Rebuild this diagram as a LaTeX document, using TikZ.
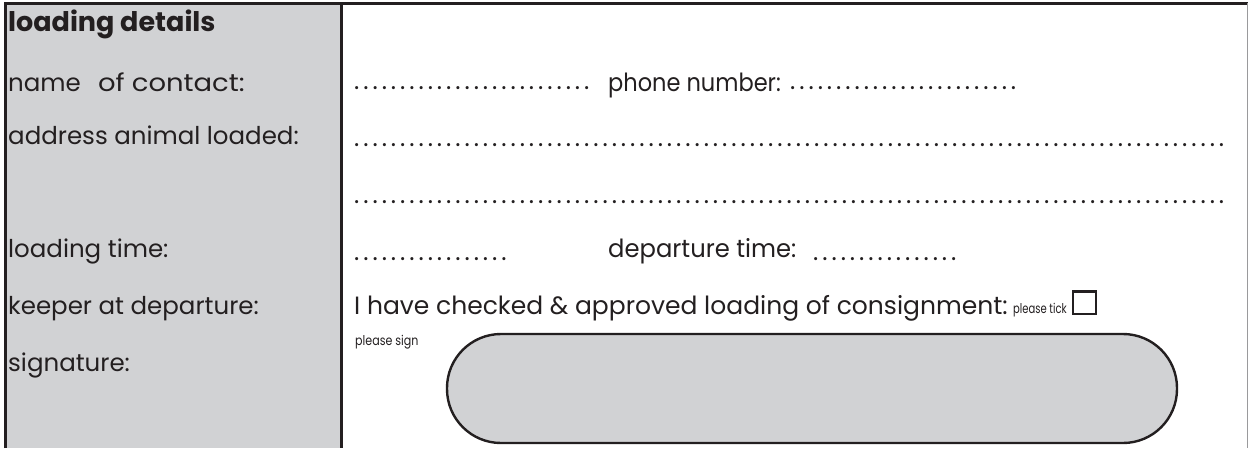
\documentclass[tikz,border=0pt]{standalone}
\usepackage{graphicx}
\usepackage{fontspec}
\setmainfont{Poppins}
\definecolor{ink}{HTML}{231F20}
\definecolor{panel}{HTML}{D1D2D4}
\definecolor{rim}{HTML}{9A9A9C}
\newcommand{\dotrun}[1]{\hbox to #1{\leaders\hbox to 9.2pt{\hss.\hss}\hfill}}
\newcommand{\narrow}[2]{\scalebox{#1}[1]{#2}}
\tikzset{
  lbl/.style={anchor=base west, inner sep=0pt, text=ink, font=\fontsize{24.5}{28}\selectfont},
  fld/.style={anchor=base west, inner sep=0pt, text=ink, font=\fontsize{25}{29}\selectfont},
  tiny/.style={anchor=base west, inner sep=0pt, text=ink, font=\fontsize{13.5}{15}\selectfont},
  frame/.style={draw=ink, line width=3pt},
  signbox/.style={draw=ink, line width=2.4pt, fill=panel, rounded corners=54pt},
  tickbox/.style={draw=ink, line width=2.8pt}
}
\begin{document}
\begin{tikzpicture}[x=1pt,y=-1pt]
\useasboundingbox (0,0) rectangle (1250,448);
% panel
\fill[panel] (5,3) rectangle (341.5,448);
\draw[frame] (5,448) -- (5,3) -- (1248,3);
\draw[frame] (341.5,3) -- (341.5,448);
\draw[rim, line width=1.5pt] (1247.5,3) -- (1247.5,448);
% left labels
\node[lbl, font=\fontsize{27}{31}\selectfont\bfseries] (t0) at (8,31) {loading details};
\node[lbl] (t1) at (8,91) {name\hspace{0.7em}\narrow{1.12}{of contact:}};
\node[lbl] (t2) at (8,144) {address animal loaded:};
\node[lbl] (t3) at (8,257) {loading time:};
\node[lbl] (t4) at (8,314) {keeper at departure:};
\node[lbl] (t5) at (8,371) {signature:};
% right fields
\node[fld] (d1) at (352,89) {\dotrun{240pt}};
\node[fld] (p1) at (608,91) {\narrow{0.9}{phone number:}};
\node[fld] (d1b) at (788,89) {\dotrun{230pt}};
\node[fld] (d2) at (352,146) {\dotrun{880pt}};
\node[fld] (d3) at (352,203) {\dotrun{880pt}};
\node[fld] (d4) at (352,260) {\dotrun{160pt}};
\node[fld] (p4) at (608,257) {\narrow{0.97}{departure time:}};
\node[fld] (d4b) at (811,260) {\dotrun{155pt}};
\node[fld] (c5) at (354,314) {I have checked \& approved loading of consignment:};
\node[tiny] (tk) at (1013,313) {\narrow{0.74}{please tick}};
\draw[tickbox] (1073,291.5) rectangle (1096,314) node[coordinate] (box) {};
\node[tiny] (sg) at (355,345) {\narrow{0.82}{please sign}};
\draw[signbox] (447,334) rectangle (1177,443) node[coordinate] (sig) {};
\end{tikzpicture}
\end{document}
